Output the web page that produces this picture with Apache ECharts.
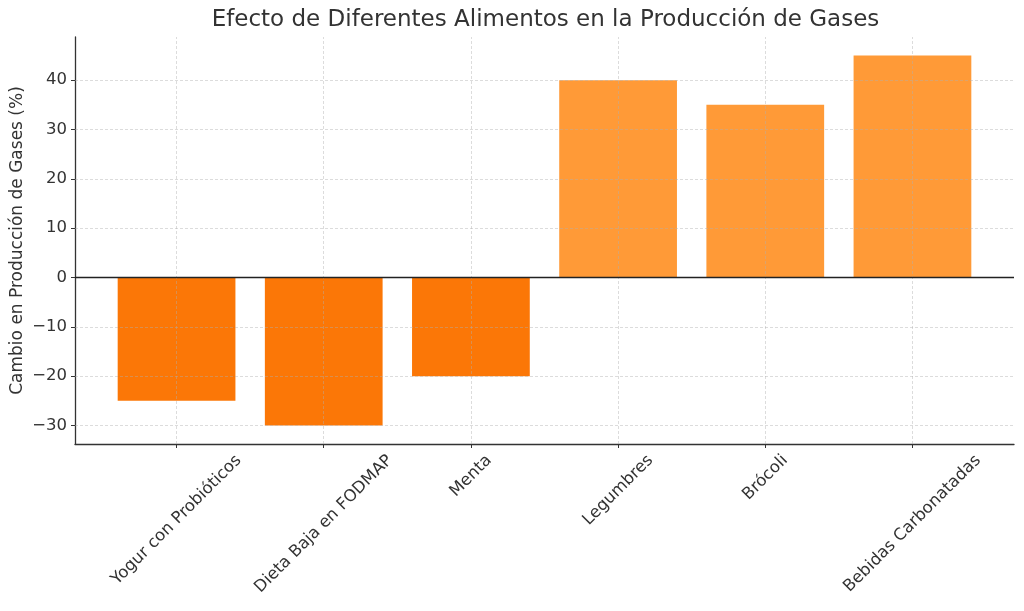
<!DOCTYPE html>
<html>
<head>
<meta charset="utf-8">
<script src="https://cdn.jsdelivr.net/npm/echarts@6/dist/echarts.min.js"></script>
<style>
  html, body { margin: 0; padding: 0; background: #fff; }
  #chart { width: 1024px; height: 611px; }
</style>
</head>
<body>
<div id="chart"></div>
<script>
// datos del gráfico
const categories = ['Yogur con Probióticos', 'Dieta Baja en FODMAP', 'Menta', 'Legumbres', 'Brócoli', 'Bebidas Carbonatadas']
const changes = [-25, -30, -20, 40, 35, 45]
const yTicks = [-30, -20, -10, 0, 10, 20, 30, 40]

const title = 'Efecto de Diferentes Alimentos en la Producción de Gases'
const yName = 'Cambio en Producción de Gases (%)'

const FONT = 'DejaVu Sans'
const TEXT = '#333333'
const NEG_COLOR = '#fb7707'
const POS_COLOR = '#ff9a37'
const GRID_COLOR = 'rgba(175,175,175,0.55)'
const TICK_FS = 16.5

const grid = { left: 75, right: 10, top: 37, bottom: 167, outerBoundsMode: 'none', containLabel: false }
const xMin = -0.69, xMax = categories.length - 1 + 0.69
const yMin = -33.75, yMax = 48.75
const plotW = 1024 - grid.left - grid.right
const barPx = plotW / (xMax - xMin) * 0.8

const chart = echarts.init(document.getElementById('chart'), null, { renderer: 'canvas' })

// líneas de la cuadrícula (se dibujan encima de las barras, como en el original)
const gridLines = []
yTicks.forEach(v => { if (v !== 0) gridLines.push({ yAxis: v }) })
categories.forEach((_, i) => gridLines.push({ xAxis: i }))

chart.setOption({
  animation: false,
  backgroundColor: '#fff',
  title: {
    text: title,
    left: grid.left + plotW / 2 - 4,
    textAlign: 'center',
    top: 4,
    textStyle: { fontFamily: FONT, fontSize: 23, fontWeight: 'normal', color: TEXT }
  },
  grid: grid,
  xAxis: {
    type: 'value',
    min: xMin,
    max: xMax,
    axisLine: { show: true, onZero: false, lineStyle: { color: TEXT, width: 1.3 } },
    axisTick: { show: true, length: 4, customValues: categories.map((_, i) => i), lineStyle: { color: TEXT, width: 1 } },
    axisLabel: { show: false },
    splitLine: { show: false }
  },
  yAxis: {
    type: 'value',
    min: yMin,
    max: yMax,
    name: yName,
    nameLocation: 'middle',
    nameGap: 49,
    nameMoveOverlap: false,
    nameTextStyle: { fontFamily: FONT, fontSize: 17, color: TEXT },
    axisLine: { show: true, onZero: false, lineStyle: { color: TEXT, width: 1.3 } },
    axisTick: { show: true, length: 4, customValues: yTicks, lineStyle: { color: TEXT, width: 1 } },
    axisLabel: {
      customValues: yTicks,
      fontFamily: FONT,
      fontSize: TICK_FS,
      color: TEXT,
      margin: 8,
      formatter: v => String(v).replace('-', '\u2212')
    },
    splitLine: { show: false }
  },
  series: [{
    type: 'bar',
    barWidth: barPx,
    data: changes.map((v, i) => ({
      value: [i, v],
      itemStyle: { color: v < 0 ? NEG_COLOR : POS_COLOR }
    })),
    markLine: {
      silent: true,
      symbol: 'none',
      label: { show: false },
      animation: false,
      lineStyle: { color: GRID_COLOR, type: [3, 2], width: 0.8 },
      data: gridLines.concat([{ yAxis: 0, lineStyle: { color: '#222', type: 'solid', width: 1.3 } }])
    }
  }]
})

// etiquetas del eje X giradas 45°, centradas como en matplotlib
const ctx = document.createElement('canvas').getContext('2d')
ctx.font = TICK_FS + 'px "' + FONT + '"'
const axisY = 611 - grid.bottom
const lineH = TICK_FS * 1.17
const labels = categories.map((name, i) => {
  const x = chart.convertToPixel({ xAxisIndex: 0 }, i)
  const w = ctx.measureText(name).width
  const half = (w + lineH) * Math.SQRT1_2 / 2
  return {
    type: 'text',
    x: x,
    y: axisY + 7 + half,
    rotation: Math.PI / 4,
    silent: true,
    style: {
      text: name,
      x: 0,
      y: 0,
      align: 'center',
      verticalAlign: 'middle',
      font: TICK_FS + 'px "' + FONT + '"',
      fill: TEXT
    }
  }
})
chart.setOption({ graphic: labels })
</script>
</body>
</html>
